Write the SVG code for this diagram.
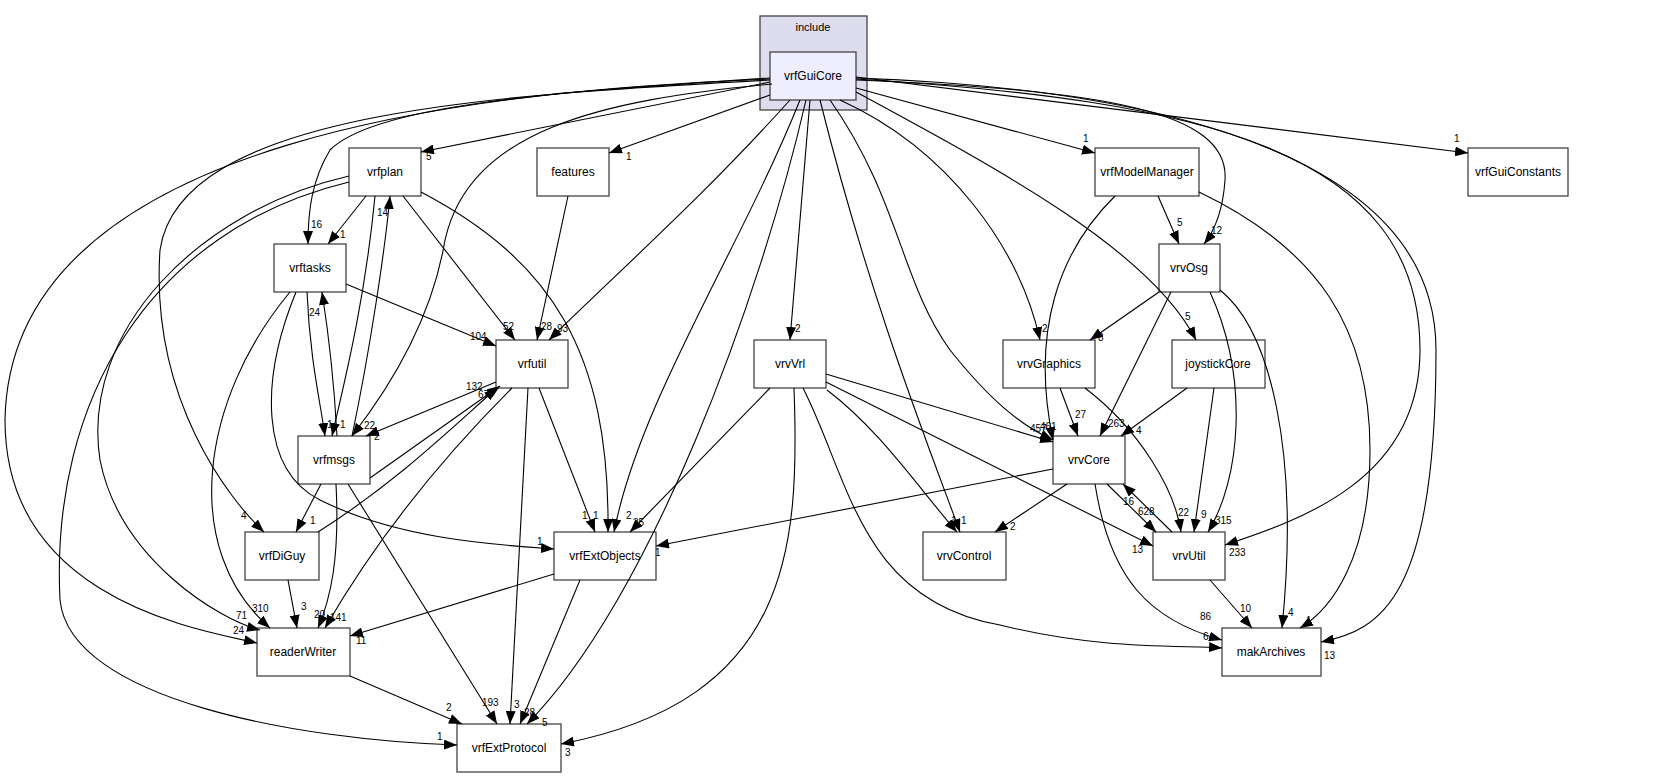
<svg xmlns="http://www.w3.org/2000/svg" width="1667" height="777" viewBox="0 0 1667 777">
<defs>
<marker id="a" markerUnits="userSpaceOnUse" markerWidth="13" markerHeight="10" refX="13" refY="5" orient="auto"><path d="M0,0 L13,5 L0,10 z" fill="#000"/></marker>
<style>
.n rect{fill:#fff;stroke:#444;stroke-width:1.3}
text{font-family:"Liberation Sans",Arial,sans-serif;font-size:11px;fill:#000}
.n text{text-anchor:middle;font-size:12px}
#e path{fill:none;stroke:#000;stroke-width:1.1;marker-end:url(#a)}
#e text{font-size:10px}
</style>
</defs>
<rect width="1667" height="777" fill="#fff"/>
<g id="cluster"><rect x="760" y="16" width="107" height="94" fill="#ddddee" stroke="#444" stroke-width="1.3"/><text x="813" y="31" text-anchor="middle">include</text></g>
<g id="vrfGuiCore" class="n"><rect x="770" y="52" width="86" height="48" style="fill:#eeeeff"/><text x="813" y="80">vrfGuiCore</text></g>
<g id="vrfplan" class="n"><rect x="349" y="148" width="72" height="48"/><text x="385" y="176">vrfplan</text></g>
<g id="features" class="n"><rect x="537" y="148" width="72" height="48"/><text x="573" y="176">features</text></g>
<g id="vrftasks" class="n"><rect x="274" y="244" width="72" height="48"/><text x="310" y="272">vrftasks</text></g>
<g id="vrfutil" class="n"><rect x="496" y="340" width="72" height="48"/><text x="532" y="368">vrfutil</text></g>
<g id="vrfmsgs" class="n"><rect x="298" y="436" width="72" height="48"/><text x="334" y="464">vrfmsgs</text></g>
<g id="vrfDiGuy" class="n"><rect x="245" y="532" width="74" height="48"/><text x="282" y="560">vrfDiGuy</text></g>
<g id="readerWriter" class="n"><rect x="257" y="628" width="93" height="48"/><text x="303" y="656">readerWriter</text></g>
<g id="vrfExtProtocol" class="n"><rect x="457" y="724" width="104" height="48"/><text x="509" y="752">vrfExtProtocol</text></g>
<g id="vrfExtObjects" class="n"><rect x="554" y="532" width="102" height="48"/><text x="605" y="560">vrfExtObjects</text></g>
<g id="vrvVrl" class="n"><rect x="754" y="340" width="72" height="48"/><text x="790" y="368">vrvVrl</text></g>
<g id="vrvControl" class="n"><rect x="923" y="532" width="83" height="48"/><text x="964" y="560">vrvControl</text></g>
<g id="vrvCore" class="n"><rect x="1053" y="436" width="72" height="48"/><text x="1089" y="464">vrvCore</text></g>
<g id="vrvGraphics" class="n"><rect x="1003" y="340" width="92" height="48"/><text x="1049" y="368">vrvGraphics</text></g>
<g id="joystickCore" class="n"><rect x="1172" y="340" width="93" height="48"/><text x="1218" y="368">joystickCore</text></g>
<g id="vrfModelManager" class="n"><rect x="1095" y="148" width="104" height="48"/><text x="1147" y="176">vrfModelManager</text></g>
<g id="vrvOsg" class="n"><rect x="1159" y="244" width="61" height="48"/><text x="1189" y="272">vrvOsg</text></g>
<g id="vrvUtil" class="n"><rect x="1153" y="532" width="72" height="48"/><text x="1189" y="560">vrvUtil</text></g>
<g id="makArchives" class="n"><rect x="1222" y="628" width="99" height="48"/><text x="1271" y="656">makArchives</text></g>
<g id="vrfGuiConstants" class="n"><rect x="1468" y="148" width="100" height="48"/><text x="1518" y="176">vrfGuiConstants</text></g>
<g id="e">
<path d="M770,82 L421,152"/><text x="426" y="160">5</text>
<path d="M770,95 L609,153"/><text x="626" y="160">1</text>
<path d="M770,78 C600,90 380,100 330,150 C312,180 308,210 308,244"/><text x="311" y="228">16</text>
<path d="M770,80 C500,95 180,110 160,250 C150,400 230,500 264,532"/><text x="241" y="519">4</text>
<path d="M770,79 C500,90 10,130 5,420 C5,600 200,630 257,643"/><text x="233" y="634">24</text>
<path d="M772,84 C600,100 470,130 445,240 C430,330 380,400 352,436"/><text x="364" y="429">22</text>
<path d="M790,100 C700,200 620,270 549,340"/><text x="557" y="332">93</text>
<path d="M800,100 C740,250 640,400 614,532"/><text x="626" y="519">2</text>
<path d="M806,100 C760,300 650,600 527,724"/><text x="542" y="726">5</text>
<path d="M810,100 L790,340"/><text x="795" y="332">2</text>
<path d="M820,100 C870,300 930,450 960,532"/><text x="961" y="524">1</text>
<path d="M830,100 C900,200 900,280 950,350 C990,400 1020,425 1053,440"/><text x="1030" y="432">457</text>
<path d="M840,100 C950,150 1020,250 1040,340"/><text x="1042" y="332">2</text>
<path d="M856,92 C1000,170 1150,250 1196,340"/><text x="1185" y="320">5</text>
<path d="M856,88 L1095,153"/><text x="1083" y="142">1</text>
<path d="M856,80 C1100,90 1230,110 1225,180 C1223,210 1215,230 1204,244"/><text x="1211" y="234">12</text>
<path d="M856,79 C1200,100 1420,150 1420,350 C1420,480 1300,520 1225,545"/><text x="1229" y="556">233</text>
<path d="M856,78 C1200,90 1436,170 1436,350 C1436,600 1380,630 1321,642"/><text x="1324" y="659">13</text>
<path d="M856,77 L1468,153"/><text x="1454" y="142">1</text>
<path d="M366,196 L328,244"/><text x="340" y="238">1</text>
<path d="M375,196 C365,300 345,380 332,436"/><text x="340" y="428">1</text>
<path d="M403,196 L515,340"/><text x="503" y="330">52</text>
<path d="M421,192 C550,260 610,350 608,532"/><text x="593" y="519">1</text>
<path d="M349,176 C200,210 80,330 100,460 C120,560 220,620 260,630"/><text x="236" y="619">71</text>
<path d="M349,182 C150,230 50,400 60,600 C70,700 300,740 457,745"/><text x="437" y="740">1</text>
<path d="M346,284 L496,346"/><text x="470" y="340">104</text>
<path d="M307,292 C310,360 320,400 325,436"/><text x="327" y="428">1</text>
<path d="M290,292 C200,400 180,550 270,628"/><text x="252" y="612">310</text>
<path d="M296,292 C260,380 260,470 320,500 C400,540 500,545 554,549"/><text x="537" y="545">1</text>
<path d="M337,436 C334,380 328,330 322,292"/><text x="309" y="316">24</text>
<path d="M352,436 C370,350 385,250 390,196"/><text x="377" y="216">14</text>
<path d="M370,478 L500,386"/><text x="478" y="398">67</text>
<path d="M321,484 L296,532"/><text x="310" y="524">1</text>
<path d="M336,484 C340,560 330,600 318,628"/><text x="314" y="618">20</text>
<path d="M348,484 L497,724"/><text x="482" y="706">193</text>
<path d="M496,382 L366,436"/><text x="374" y="440">2</text>
<path d="M539,388 L595,532"/><text x="582" y="519">1</text>
<path d="M512,388 C430,470 370,550 325,628"/><text x="330" y="621">141</text>
<path d="M528,388 L510,724"/><text x="514" y="708">3</text>
<path d="M568,196 L537,340"/><text x="541" y="330">28</text>
<path d="M318,532 C400,480 460,420 497,388"/><text x="466" y="390">132</text>
<path d="M288,580 L297,628"/><text x="301" y="610">3</text>
<path d="M554,574 L350,636"/><text x="356" y="644">11</text>
<path d="M580,580 L520,724"/><text x="524" y="716">28</text>
<path d="M350,676 L462,724"/><text x="446" y="711">2</text>
<path d="M770,388 L630,532"/><text x="633" y="526">35</text>
<path d="M794,388 C800,550 790,700 561,744"/><text x="565" y="756">3</text>
<path d="M827,390 C880,430 920,490 957,532"/><text x="951" y="524">1</text>
<path d="M826,374 L1053,442"/><text x="1040" y="430">461</text>
<path d="M826,382 L1153,546"/><text x="1132" y="553">13</text>
<path d="M803,388 C850,480 860,600 1000,625 C1100,650 1180,645 1222,648"/><text x="1203" y="640">6</text>
<path d="M1115,196 C1060,250 1030,330 1053,440"/>
<path d="M1158,196 L1179,244"/><text x="1177" y="226">5</text>
<path d="M1199,192 C1320,250 1370,330 1370,450 C1370,560 1330,610 1300,628"/><text x="1306" y="624">1</text>
<path d="M1159,292 L1090,340"/><text x="1098" y="341">8</text>
<path d="M1171,292 L1100,436"/><text x="1108" y="427">263</text>
<path d="M1210,292 C1250,380 1240,480 1208,532"/><text x="1215" y="524">315</text>
<path d="M1220,290 C1270,330 1300,450 1282,628"/><text x="1288" y="616">4</text>
<path d="M1060,388 L1078,436"/><text x="1075" y="418">27</text>
<path d="M1085,388 C1140,430 1175,490 1181,532"/><text x="1178" y="516">22</text>
<path d="M1187,388 L1121,436"/><text x="1136" y="434">4</text>
<path d="M1214,388 L1194,532"/><text x="1201" y="518">9</text>
<path d="M1053,469 L656,546"/><text x="655" y="556">1</text>
<path d="M1067,484 L995,532"/><text x="1010" y="530">2</text>
<path d="M1107,484 L1156,532"/><text x="1138" y="515">628</text>
<path d="M1095,484 C1110,580 1150,620 1222,640"/><text x="1200" y="620">86</text>
<path d="M1172,532 L1123,484"/><text x="1123" y="505">16</text>
<path d="M1210,580 L1252,628"/><text x="1240" y="612">10</text>
</g>
</svg>
